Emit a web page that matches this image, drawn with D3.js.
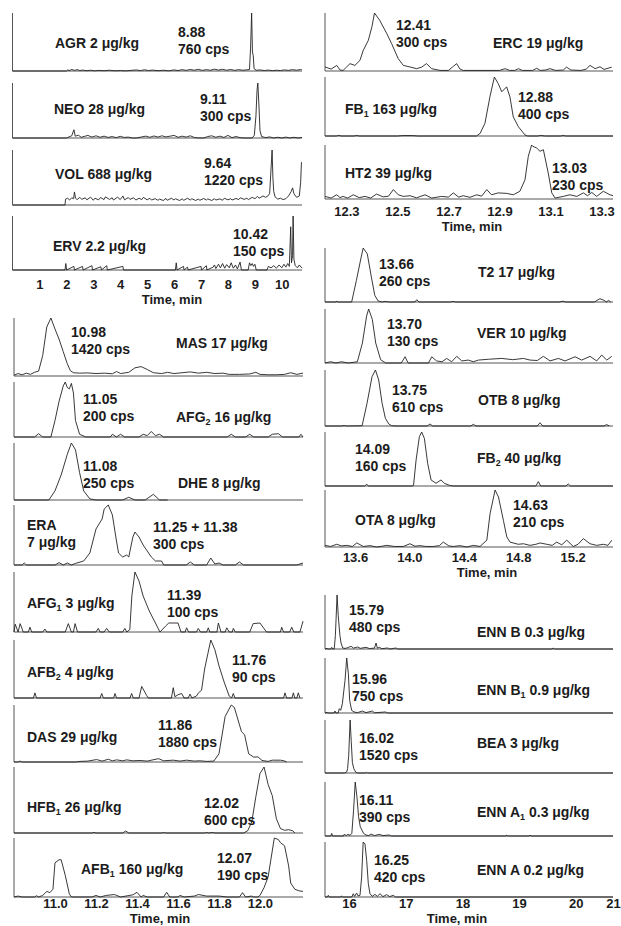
<!DOCTYPE html>
<html>
<head>
<meta charset="utf-8">
<script src="https://cdn.jsdelivr.net/npm/d3@7"></script>
<style>
  body { margin: 0; background: #fff; }
  svg text { font-family: "Liberation Sans", Arial, sans-serif; font-weight: bold; fill: #1c1c1c; white-space: pre; }
</style>
</head>
<body>
<svg id="fig" width="621" height="926"></svg>
<script>
// ---------- Chromatogram traces: [retention time (min), intensity (cps)] ----------
const agrTrace = [[0,0],[2.0,0],[2.05,15],[2.1,5],[2.2,20],[2.3,8],[2.4,18],[2.5,6],[2.6,12],[2.75,4],[2.9,10],[3.05,3],[3.2,8],[3.4,4],[3.6,10],[3.8,3],[4.0,6],[4.2,2],[4.4,8],[4.6,14],[4.75,5],[4.9,16],[5.05,6],[5.2,12],[5.4,4],[5.6,10],[5.8,3],[6.0,14],[6.15,6],[6.3,18],[6.45,8],[6.6,20],[6.75,10],[6.9,22],[7.05,8],[7.2,18],[7.35,10],[7.5,24],[7.65,12],[7.8,22],[7.95,10],[8.1,20],[8.25,8],[8.4,18],[8.55,10],[8.7,15],[8.8,20],[8.84,300],[8.88,760],[8.91,250],[8.94,200],[8.97,30],[9.05,10],[9.2,14],[9.35,6],[9.5,12],[9.65,5],[9.8,10],[9.95,6],[10.1,14],[10.25,8],[10.4,18],[10.55,10],[10.7,20],[10.75,12]];
const neoTrace = [[0,0],[2.0,0],[2.1,6],[2.2,12],[2.28,45],[2.33,10],[2.45,15],[2.55,4],[2.7,10],[2.8,14],[2.95,5],[3.1,12],[3.25,4],[3.4,10],[3.55,3],[3.7,8],[3.85,2],[4.0,9],[4.15,3],[4.3,5],[4.45,0],[4.6,0],[4.8,6],[4.95,10],[5.1,4],[5.25,11],[5.4,5],[5.55,12],[5.7,6],[5.85,10],[6.0,14],[6.15,4],[6.3,10],[6.45,5],[6.6,12],[6.75,3],[6.9,0],[7.1,0],[7.25,8],[7.4,12],[7.55,4],[7.7,10],[7.85,3],[8.0,14],[8.15,2],[8.3,8],[8.45,2],[8.6,0],[8.9,0],[8.98,15],[9.04,120],[9.08,260],[9.11,300],[9.15,180],[9.19,40],[9.25,8],[9.4,2],[9.55,6],[9.7,0],[9.85,4],[10.0,0],[10.15,5],[10.3,0],[10.45,4],[10.6,0],[10.75,3]];
const volTrace = [[0,0],[1.95,0],[1.97,130],[2.05,150],[2.12,110],[2.2,160],[2.27,140],[2.3,290],[2.34,150],[2.4,120],[2.5,170],[2.57,125],[2.7,160],[2.76,115],[2.9,175],[3.0,105],[3.06,150],[3.2,115],[3.27,165],[3.4,120],[3.45,180],[3.6,125],[3.7,160],[3.75,110],[3.9,175],[4.0,120],[4.1,200],[4.16,115],[4.3,165],[4.36,125],[4.5,160],[4.58,110],[4.7,150],[4.8,120],[4.86,170],[5.0,115],[5.1,150],[5.16,110],[5.3,140],[5.4,105],[5.46,130],[5.6,100],[5.7,145],[5.75,105],[5.9,150],[6.0,110],[6.05,140],[6.2,100],[6.3,135],[6.36,105],[6.5,150],[6.6,110],[6.66,140],[6.8,100],[6.9,130],[6.96,105],[7.1,145],[7.2,110],[7.25,135],[7.4,100],[7.5,140],[7.55,110],[7.7,135],[7.8,105],[7.86,150],[8.0,115],[8.1,140],[8.15,110],[8.3,145],[8.4,120],[8.46,160],[8.6,125],[8.7,150],[8.76,120],[8.9,170],[9.0,140],[9.1,190],[9.16,150],[9.3,200],[9.4,170],[9.5,210],[9.55,260],[9.6,800],[9.64,1220],[9.67,600],[9.7,300],[9.75,180],[9.85,130],[9.95,150],[10.05,120],[10.15,140],[10.25,200],[10.35,300],[10.4,380],[10.45,250],[10.55,170],[10.65,200],[10.7,500],[10.73,950]];
const ervTrace = [[0,0],[1.95,0],[1.98,18],[2.01,0],[2.28,10],[2.3,0],[2.6,10],[2.62,0],[2.95,12],[2.97,0],[3.28,9],[3.3,0],[3.5,12],[3.52,0],[4.1,10],[4.12,0],[6.05,0],[6.08,20],[6.11,0],[6.35,10],[6.37,0],[6.5,8],[6.52,0],[7.0,10],[7.02,0],[7.2,12],[7.22,0],[7.45,8],[7.5,14],[7.55,4],[7.65,16],[7.72,6],[7.8,18],[7.88,5],[7.95,15],[8.05,6],[8.12,20],[8.2,5],[8.28,14],[8.35,3],[8.45,22],[8.5,0],[8.75,0],[8.8,20],[8.85,12],[8.9,18],[8.95,10],[9.0,16],[9.05,0],[9.45,0],[9.5,10],[9.6,6],[9.7,12],[9.8,5],[9.9,14],[10.0,6],[10.08,16],[10.15,8],[10.22,18],[10.28,10],[10.33,120],[10.36,20],[10.4,40],[10.42,150],[10.45,30],[10.5,12],[10.58,6],[10.65,14],[10.75,5]];

const masTrace = [[10.8,20],[10.82,60],[10.84,30],[10.86,70],[10.88,40],[10.9,90],[10.92,120],[10.94,500],[10.96,1200],[10.98,1420],[11.0,1150],[11.02,900],[11.04,600],[11.06,300],[11.075,130],[11.09,80],[11.12,70],[11.16,75],[11.2,60],[11.24,70],[11.28,55],[11.3,110],[11.32,60],[11.36,90],[11.39,200],[11.42,230],[11.45,160],[11.48,80],[11.52,60],[11.55,90],[11.58,60],[11.62,80],[11.66,100],[11.7,70],[11.74,90],[11.78,60],[11.82,70],[11.85,40],[11.9,40],[11.95,50],[11.98,90],[12.0,40],[12.04,30],[12.08,30],[12.12,40],[12.15,80],[12.18,40],[12.21,70]];
const afg2Trace = [[10.8,0],[10.9,0],[10.92,12],[10.94,0],[10.98,0],[11.0,60],[11.02,130],[11.04,185],[11.05,200],[11.06,180],[11.07,175],[11.08,195],[11.09,160],[11.1,60],[11.12,10],[11.15,0],[11.27,0],[11.28,10],[11.3,0],[11.32,10],[11.34,0],[11.41,0],[11.43,10],[11.45,5],[11.47,20],[11.49,5],[11.51,10],[11.53,0],[11.84,0],[11.86,10],[11.88,0],[11.93,0],[11.95,10],[11.97,0],[12.04,0],[12.06,10],[12.09,12],[12.11,0],[12.19,0],[12.2,10],[12.21,0]];
const dheTrace = [[10.8,0],[10.97,0],[11.0,40],[11.03,110],[11.06,200],[11.08,250],[11.1,220],[11.12,120],[11.14,40],[11.17,5],[11.2,0],[11.33,0],[11.36,12],[11.39,0],[11.44,0],[11.48,25],[11.51,0],[11.55,0]];
const eraTrace = [[10.8,0],[10.84,0],[10.85,10],[10.86,0],[11.0,0],[11.02,12],[11.04,0],[11.06,10],[11.08,0],[11.1,8],[11.14,20],[11.17,60],[11.2,180],[11.23,230],[11.24,280],[11.26,300],[11.28,250],[11.3,120],[11.31,60],[11.33,40],[11.35,50],[11.36,40],[11.38,140],[11.39,165],[11.41,140],[11.43,100],[11.45,70],[11.47,40],[11.49,20],[11.52,20],[11.53,0],[11.64,0],[11.66,15],[11.68,0],[11.74,0],[11.76,35],[11.78,5],[11.8,10],[11.82,0],[11.88,0],[11.9,15],[11.92,0],[12.18,0],[12.21,10]];
const afg1Trace = [[10.8,0],[10.806,13],[10.82,0],[10.83,14],[10.845,0],[10.87,0],[10.878,8],[10.886,0],[10.94,0],[10.951,5],[10.96,0],[11.05,0],[11.065,14],[11.08,0],[11.09,0],[11.098,14],[11.11,0],[11.2,0],[11.211,6],[11.22,0],[11.24,0],[11.252,6],[11.265,0],[11.33,0],[11.341,6],[11.35,0],[11.365,4],[11.375,60],[11.39,100],[11.41,85],[11.43,60],[11.46,35],[11.49,15],[11.512,0],[11.54,10],[11.555,15],[11.6,15],[11.615,0],[11.635,0],[11.642,7],[11.652,0],[11.69,0],[11.699,6],[11.71,0],[11.74,0],[11.748,7],[11.755,0],[11.79,0],[11.797,15],[11.81,0],[11.83,0],[11.838,7],[11.85,0],[11.865,0],[11.87,6],[11.88,0],[11.95,0],[11.967,14],[12.0,15],[12.032,0],[12.1,0],[12.106,8],[12.115,0],[12.145,0],[12.155,8],[12.165,0],[12.195,0],[12.21,18]];
const afb2Trace = [[10.8,0],[10.895,0],[10.902,8],[10.91,0],[11.22,0],[11.228,7],[11.236,0],[11.286,0],[11.293,7],[11.3,0],[11.366,0],[11.374,7],[11.382,0],[11.41,0],[11.423,18],[11.447,4],[11.455,0],[11.568,0],[11.577,16],[11.585,2],[11.6,5],[11.618,7],[11.63,0],[11.65,0],[11.659,6],[11.668,0],[11.69,3],[11.7,8],[11.715,12],[11.73,45],[11.76,90],[11.78,75],[11.8,50],[11.825,25],[11.85,3],[11.862,0],[11.87,7],[11.878,0],[12.115,0],[12.122,8],[12.13,0],[12.156,0],[12.163,8],[12.17,0],[12.18,0],[12.187,8],[12.195,0]];
const dasTrace = [[10.8,0],[10.82,0],[10.829,30],[10.84,0],[11.1,0],[11.122,20],[11.16,30],[11.203,80],[11.23,30],[11.26,90],[11.28,40],[11.301,70],[11.33,40],[11.35,70],[11.38,40],[11.415,50],[11.45,30],[11.505,110],[11.53,40],[11.577,60],[11.61,30],[11.642,60],[11.68,30],[11.707,40],[11.74,20],[11.775,30],[11.8,270],[11.83,1500],[11.86,1880],[11.875,1800],[11.91,1000],[11.925,900],[11.945,270],[11.97,160],[11.99,170],[12.01,50],[12.04,20],[12.06,60],[12.1,60],[12.122,30],[12.13,0]];
const hfb1Trace = [[10.8,0],[11.18,0],[11.19,5],[11.2,0],[11.33,0],[11.345,18],[11.36,0],[11.52,0],[11.53,5],[11.54,0],[11.73,0],[11.74,5],[11.75,0],[11.77,5],[11.78,0],[11.92,0],[11.94,20],[11.96,100],[11.98,330],[12.0,540],[12.02,600],[12.04,440],[12.06,340],[12.08,130],[12.1,40],[12.12,25],[12.14,30],[12.16,20],[12.17,0]];
const afb1Trace = [[10.8,0],[10.82,3],[10.84,0],[10.9,0],[10.91,4],[10.92,0],[10.94,5],[10.96,18],[10.975,14],[10.99,25],[11.0,110],[11.02,120],[11.03,120],[11.05,70],[11.07,10],[11.08,0],[11.18,0],[11.2,5],[11.22,0],[11.25,5],[11.29,8],[11.32,0],[11.38,7],[11.4,15],[11.42,0],[11.43,5],[11.45,0],[11.53,0],[11.545,15],[11.56,0],[11.6,0],[11.61,5],[11.63,0],[11.68,3],[11.7,8],[11.74,3],[11.8,3],[11.84,0],[11.9,0],[11.915,14],[11.93,0],[11.96,3],[11.97,0],[11.99,0],[12.0,5],[12.02,30],[12.04,65],[12.07,190],[12.09,185],[12.1,175],[12.12,165],[12.14,100],[12.15,45],[12.17,25],[12.19,20],[12.21,18]];

const ercTrace = [[12.216,21],[12.24,10],[12.262,29],[12.275,5],[12.287,3],[12.3,20],[12.314,38],[12.333,29],[12.353,55],[12.366,107],[12.386,159],[12.4,229],[12.41,300],[12.43,263],[12.458,194],[12.477,142],[12.503,64],[12.523,29],[12.549,21],[12.575,12],[12.595,20],[12.614,38],[12.634,12],[12.667,3],[12.7,3],[12.72,25],[12.732,38],[12.745,10],[12.758,3],[12.9,3],[12.922,12],[12.94,3],[12.96,3],[12.974,12],[12.99,3],[13.03,3],[13.046,14],[13.06,3],[13.08,5],[13.098,12],[13.12,3],[13.15,5],[13.163,20],[13.18,5],[13.22,3],[13.24,10],[13.255,29],[13.275,12],[13.294,22],[13.31,8],[13.34,20]];
const fb1Trace = [[12.216,0],[12.26,0],[12.27,4],[12.28,0],[12.33,0],[12.34,4],[12.35,0],[12.5,0],[12.52,3],[12.56,3],[12.58,0],[12.81,0],[12.824,18],[12.843,86],[12.863,270],[12.88,400],[12.895,355],[12.909,300],[12.928,333],[12.941,265],[12.954,130],[12.974,63],[13.0,7],[13.01,0],[13.05,0],[13.06,4],[13.08,0],[13.14,0],[13.15,4],[13.16,0],[13.345,0]];
const ht2Trace = [[12.216,11],[12.24,4],[12.262,18],[12.275,6],[12.287,11],[12.305,4],[12.327,18],[12.35,6],[12.373,11],[12.395,4],[12.418,21],[12.444,9],[12.465,12],[12.484,40],[12.503,18],[12.523,11],[12.549,14],[12.575,5],[12.608,18],[12.634,4],[12.673,11],[12.7,8],[12.719,26],[12.74,8],[12.758,14],[12.784,7],[12.811,18],[12.83,12],[12.85,40],[12.869,18],[12.895,26],[12.928,24],[12.954,18],[12.98,33],[13.0,82],[13.013,182],[13.026,230],[13.03,225],[13.046,217],[13.059,203],[13.072,210],[13.091,111],[13.105,26],[13.118,4],[13.15,11],[13.176,18],[13.203,11],[13.229,26],[13.245,14],[13.262,28],[13.281,11],[13.307,33],[13.333,18],[13.345,14]];

const t2Trace = [[13.379,0],[13.46,0],[13.465,5],[13.47,0],[13.575,0],[13.61,104],[13.645,216],[13.66,260],[13.69,232],[13.72,120],[13.745,32],[13.77,5],[13.8,0],[13.82,3],[13.85,0],[14.04,0],[14.054,11],[14.07,0],[14.3,0],[14.32,3],[14.34,0],[15.1,0],[15.13,4],[15.15,0],[15.36,0],[15.38,8],[15.401,16],[15.43,8],[15.45,0],[15.463,8],[15.48,0]];
const verTrace = [[13.379,0],[13.42,3],[13.46,0],[13.5,3],[13.55,0],[13.617,3],[13.654,48],[13.685,113],[13.70,130],[13.727,105],[13.752,48],[13.788,8],[13.825,0],[13.94,0],[13.968,15],[13.99,0],[14.14,0],[14.164,15],[14.2,5],[14.24,3],[14.274,11],[14.31,3],[14.348,16],[14.385,5],[14.433,7],[14.47,3],[14.507,7],[14.58,9],[14.679,11],[14.76,8],[14.838,11],[14.887,7],[14.94,6],[14.985,16],[15.034,5],[15.095,11],[15.144,5],[15.218,15],[15.267,7],[15.328,16],[15.377,5],[15.414,19],[15.451,7],[15.488,16]];
const otbTrace = [[13.379,0],[13.5,0],[13.52,5],[13.54,0],[13.652,3],[13.688,247],[13.725,538],[13.75,610],[13.774,501],[13.799,247],[13.823,84],[13.848,22],[13.87,3],[13.9,0],[14.13,0],[14.151,22],[14.17,0],[14.45,0],[14.47,18],[14.49,0],[14.94,0],[14.96,36],[14.98,0],[15.43,0],[15.451,15],[15.47,0]];
const fb2Trace = [[13.379,0],[13.67,0],[13.686,5],[13.7,0],[14.02,0],[14.03,2],[14.049,77],[14.073,146],[14.09,160],[14.11,141],[14.134,67],[14.159,18],[14.196,8],[14.232,18],[14.257,8],[14.294,2],[14.32,0],[14.93,0],[14.948,13],[14.965,0],[15.15,0],[15.168,6],[15.185,0],[15.497,0]];
const otaTrace = [[13.379,6],[13.42,2],[13.465,10],[13.5,4],[13.539,6],[13.58,2],[13.613,15],[13.661,2],[13.71,5],[13.76,0],[13.8,3],[13.833,6],[13.89,2],[13.955,2],[14.004,12],[14.04,3],[14.078,5],[14.12,2],[14.176,2],[14.22,5],[14.249,18],[14.29,4],[14.323,2],[14.372,5],[14.421,0],[14.47,6],[14.519,2],[14.569,25],[14.593,123],[14.63,210],[14.655,184],[14.691,98],[14.716,37],[14.74,18],[14.8,10],[14.838,12],[14.887,6],[14.93,10],[14.96,15],[15.01,10],[15.05,6],[15.083,18],[15.12,8],[15.157,25],[15.205,2],[15.24,10],[15.279,31],[15.328,12],[15.377,6],[15.426,10],[15.46,6],[15.488,25]];

const ennBTrace = [[15.577,0],[15.6,0],[15.607,9],[15.62,0],[15.68,0],[15.695,15],[15.71,0],[15.74,0],[15.76,120],[15.79,480],[15.81,300],[15.84,120],[15.86,53],[15.89,9],[15.93,5],[15.98,12],[16.036,24],[16.08,8],[16.154,18],[16.2,6],[16.301,15],[16.36,4],[16.45,8],[16.477,53],[16.5,8],[16.536,15],[16.58,3],[16.683,9],[16.72,0],[16.829,9],[16.86,0],[19.58,0],[19.603,9],[19.62,0],[20.656,0]];
const ennB1Trace = [[15.577,0],[15.6,0],[15.607,14],[15.62,0],[15.74,0],[15.753,27],[15.77,0],[15.81,0],[15.829,59],[15.854,36],[15.883,127],[15.93,445],[15.96,750],[15.989,535],[16.012,172],[16.047,36],[16.09,14],[16.15,5],[16.236,27],[16.3,5],[16.412,27],[16.45,3],[16.647,14],[16.68,0],[20.656,0]];
const beaTrace = [[15.577,0],[15.92,0],[15.96,30],[15.975,124],[15.995,500],[16.02,1520],[16.04,900],[16.06,300],[16.085,124],[16.12,20],[16.15,0],[16.3,0],[16.312,19],[16.325,0],[20.656,0]];
const ennA1Trace = [[15.577,0],[15.68,0],[15.695,19],[15.71,0],[15.9,0],[15.916,12],[15.95,3],[15.98,12],[16.02,5],[16.05,19],[16.081,187],[16.11,390],[16.14,283],[16.169,139],[16.199,67],[16.228,43],[16.257,19],[16.3,7],[16.35,3],[16.387,14],[16.45,3],[16.534,12],[16.6,3],[16.71,7],[16.75,0],[18.77,0],[18.781,7],[18.8,0],[19.18,0],[19.192,7],[19.21,0],[20.656,0]];
const ennATrace = [[15.577,0],[15.62,0],[15.635,13],[15.65,0],[15.86,0],[15.871,8],[15.89,0],[16.05,0],[16.076,25],[16.1,5],[16.135,30],[16.16,8],[16.194,13],[16.223,152],[16.25,420],[16.282,405],[16.312,279],[16.341,101],[16.37,25],[16.41,5],[16.459,20],[16.5,5],[16.547,25],[16.6,3],[16.664,18],[16.72,3],[16.782,13],[16.82,0],[20.656,0]];

// ---------- Annotations ----------
// "_n" marks a subscript digit, "|" a line break
const compoundLabels = [
  "AGR 2 μg/kg", "NEO 28 μg/kg", "VOL 688 μg/kg", "ERV 2.2 μg/kg",
  "MAS 17 μg/kg", "AFG_2 16 μg/kg", "DHE 8 μg/kg", "ERA|7 μg/kg", "AFG_1 3 μg/kg",
  "AFB_2 4 μg/kg", "DAS 29 μg/kg", "HFB_1 26 μg/kg", "AFB_1 160 μg/kg",
  "ERC 19 μg/kg", "FB_1 163 μg/kg", "HT2 39 μg/kg",
  "T2 17 μg/kg", "VER 10 μg/kg", "OTB 8 μg/kg", "FB_2 40 μg/kg", "OTA 8 μg/kg",
  "ENN B 0.3 μg/kg", "ENN B_1 0.9 μg/kg", "BEA 3 μg/kg", "ENN A_1 0.3 μg/kg", "ENN A 0.2 μg/kg"
];
const retentionLabels = [
  "8.88", "9.11", "9.64", "10.42",
  "10.98", "11.05", "11.08", "11.25 + 11.38", "11.39", "11.76", "11.86", "12.02", "12.07",
  "12.41", "12.88", "13.03",
  "13.66", "13.70", "13.75", "14.09", "14.63",
  "15.79", "15.96", "16.02", "16.11", "16.25"
];
const peakCps = [
  760, 300, 1220, 150,
  1420, 200, 250, 300, 100, 90, 1880, 600, 190,
  300, 400, 230,
  260, 130, 610, 160, 210,
  480, 750, 1520, 390, 420
];
const traces = [
  agrTrace, neoTrace, volTrace, ervTrace,
  masTrace, afg2Trace, dheTrace, eraTrace, afg1Trace, afb2Trace, dasTrace, hfb1Trace, afb1Trace,
  ercTrace, fb1Trace, ht2Trace,
  t2Trace, verTrace, otbTrace, fb2Trace, otaTrace,
  ennBTrace, ennB1Trace, beaTrace, ennA1Trace, ennATrace
];

// ---------- Time axes ----------
const ticksOverview = [1, 2, 3, 4, 5, 6, 7, 8, 9, 10];
const ticksLeft = [11.0, 11.2, 11.4, 11.6, 11.8, 12.0];
const ticksRightTop = [12.3, 12.5, 12.7, 12.9, 13.1, 13.3];
const ticksRightMid = [13.6, 14.0, 14.4, 14.8, 15.2];
const ticksRightLow = [16, 17, 18, 19, 20, 21];

// ---------- Layout (pixels) ----------
const groups = [
  { domain: [0, 10.75], range: [12.5, 302], ticks: ticksOverview, fmt: d3.format("d"),
    tickY: 284, titleX: 172, titleY: 299, idx: [0, 1, 2, 3],
    boxes: [[13, 71], [83, 138], [150, 205], [216, 270]] },
  { domain: [10.8, 12.21], range: [14, 303], ticks: ticksLeft, fmt: d3.format(".1f"),
    tickY: 903, titleX: 160, titleY: 918, idx: [4, 5, 6, 7, 8, 9, 10, 11, 12],
    boxes: [[318, 376], [382, 437], [443, 500], [505, 565], [572, 632], [640, 698], [705, 762], [767, 833], [838, 897]] },
  { domain: [12.216, 13.345], range: [325, 613], ticks: ticksRightTop, fmt: d3.format(".1f"),
    tickY: 211, titleX: 472, titleY: 226, idx: [13, 14, 15],
    boxes: [[13, 71], [77, 136], [145, 199]] },
  { domain: [13.379, 15.497], range: [325, 613], ticks: ticksRightMid, fmt: d3.format(".1f"),
    tickY: 557, titleX: 487, titleY: 572, idx: [16, 17, 18, 19, 20],
    boxes: [[248, 302], [309, 363], [370, 426], [432, 486], [490, 547]] },
  { domain: [15.577, 20.656], range: [325, 613], ticks: ticksRightLow, fmt: d3.format("d"),
    tickY: 903, titleX: 457, titleY: 918, idx: [21, 22, 23, 24, 25],
    boxes: [[595, 649], [658, 713], [720, 773], [782, 836], [842, 897]] }
];

// text anchors: [x, vertical centre] for compound name, retention time, intensity
const nameAt = [[55,43],[54,109],[55,174],[53,246],[176,343],[176,417],[178,483],[27,525],[27,603],[27,672],[27,737],[27,807],[81,869],
  [493,43],[345,109],[345,173],[478,272],[477,333],[478,400],[477,458],[355,520],[477,632],[477,690],[477,743],[477,812],[477,870]];
const rtAt = [[178,32],[200,99],[204,163],[233,234],[71,332],[83,399],[83,466],[153,527],[167,595],[232,660],[158,725],[204,803],[217,858],
  [396,25],[518,97],[552,168],[379,264],[387,324],[392,390],[355,449],[513,505],[349,610],[352,679],[359,738],[359,800],[374,860]];
const lineGap = 17;
const axisFont = 13;

const svg = d3.select("#fig");
const ink = "#1c1c1c";

function writeLabel(parent, str, x, yc) {
  str.split("|").forEach((line, li) => {
    const t = parent.append("text").attr("x", x).attr("y", yc + 5 + li * lineGap).attr("font-size", 14);
    const parts = line.split(/_(\d)/);
    parts.forEach((p, i) => {
      if (i % 2 === 1) {
        t.append("tspan").attr("font-size", 9).attr("dy", 3).text(p);
      } else if (p.length) {
        const ts = t.append("tspan").text(p);
        if (i > 0) ts.attr("dy", -3);
      }
    });
  });
}

groups.forEach(g => {
  const x = d3.scaleLinear().domain(g.domain).range(g.range).clamp(true);
  const gg = svg.append("g");

  g.idx.forEach((k, j) => {
    const [top, base] = g.boxes[j];
    const y = d3.scaleLinear().domain([0, peakCps[k]]).range([base, top]);
    const p = gg.append("g");

    // panel frame: intensity axis and time baseline
    p.append("line").attr("x1", g.range[0]).attr("x2", g.range[0]).attr("y1", top).attr("y2", base)
      .attr("stroke", "#555").attr("stroke-width", 1);
    p.append("line").attr("x1", g.range[0]).attr("x2", g.range[1]).attr("y1", base).attr("y2", base)
      .attr("stroke", "#555").attr("stroke-width", 1);

    const line = d3.line().x(d => x(d[0])).y(d => y(d[1]));
    p.append("path").datum(traces[k]).attr("d", line)
      .attr("fill", "none").attr("stroke", "#222").attr("stroke-width", 0.9).attr("stroke-linejoin", "round");

    writeLabel(p, compoundLabels[k], nameAt[k][0], nameAt[k][1]);
    writeLabel(p, retentionLabels[k], rtAt[k][0], rtAt[k][1]);
    writeLabel(p, peakCps[k] + " cps", rtAt[k][0], rtAt[k][1] + lineGap);
  });

  // time tick labels (no tick marks, as on the instrument printout)
  const axis = d3.axisBottom(x).tickValues(g.ticks).tickSize(0).tickPadding(0).tickFormat(g.fmt);
  const ax = gg.append("g").attr("transform", `translate(0,${g.tickY})`).call(axis);
  ax.select(".domain").remove();
  ax.selectAll("text").attr("dy", null).attr("y", axisFont * 0.36)
    .attr("font-size", axisFont).attr("font-family", null).style("fill", ink);

  gg.append("text").attr("x", g.titleX).attr("y", g.titleY + axisFont * 0.36).attr("text-anchor", "middle")
    .attr("font-size", axisFont).text("Time, min");
});
</script>
</body>
</html>
